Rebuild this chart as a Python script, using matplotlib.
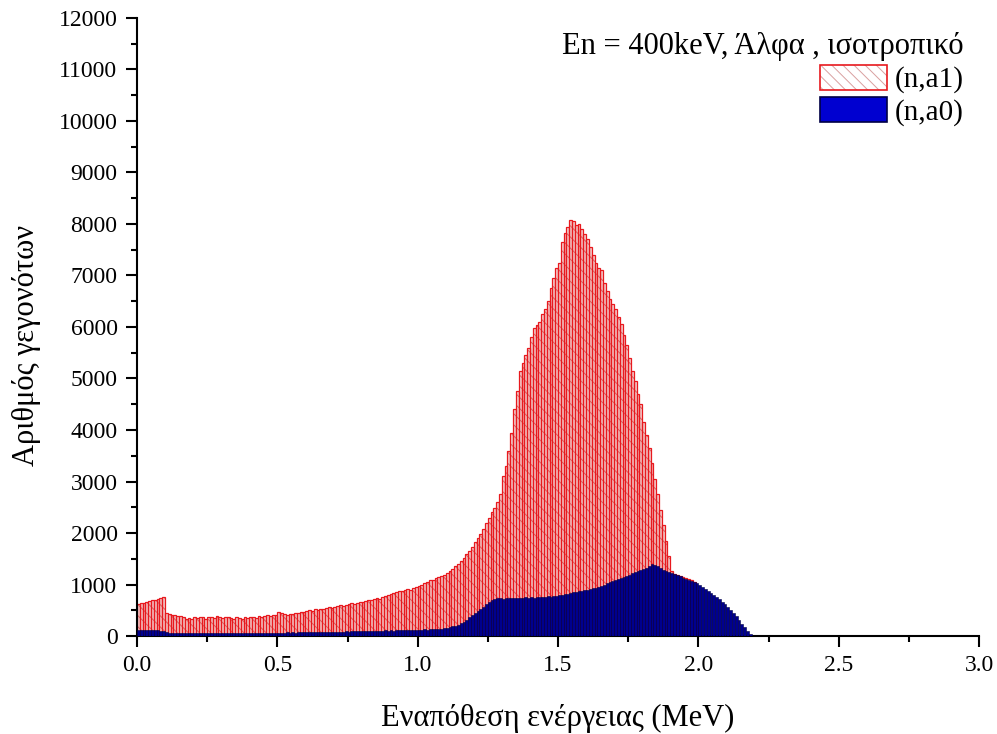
import numpy as np
import matplotlib
matplotlib.use("Agg")
import matplotlib.pyplot as plt
from matplotlib.patches import Patch
from matplotlib.legend_handler import HandlerTuple
from matplotlib.ticker import MultipleLocator

plt.rcParams['font.family'] = ['Liberation Serif', 'DejaVu Serif']
plt.rcParams['hatch.linewidth'] = 0.7

# Energy deposition histogram, 0.01 MeV bins starting at 0.00 MeV
bin_width = 0.01

# (n,a1) counts per bin
counts_a1 = [
    620, 640, 650, 670, 680, 700, 690, 720, 730, 750,
    440, 420, 400, 410, 380, 390, 360, 330, 350, 340,
    360, 350, 370, 360, 340, 370, 360, 350, 380, 370,
    350, 360, 370, 350, 340, 360, 350, 340, 360, 350,
    360, 370, 350, 380, 370, 390, 400, 380, 410, 400,
    470, 440, 420, 410, 430, 420, 440, 450, 470, 460,
    480, 500, 490, 520, 510, 530, 520, 550, 560, 540,
    570, 580, 600, 590, 610, 620, 640, 630, 650, 660,
    670, 680, 700, 690, 720, 730, 710, 750, 770, 800,
    820, 830, 850, 870, 880, 890, 910, 900, 930, 950,
    980, 1000, 1030, 1050, 1080, 1090, 1120, 1140, 1160, 1190,
    1230, 1270, 1300, 1350, 1400, 1450, 1520, 1600, 1660, 1720,
    1820, 1900, 1980, 2080, 2200, 2300, 2400, 2480, 2600, 2750,
    3100, 3300, 3600, 3950, 4400, 4750, 5150, 5300, 5450, 5600,
    5800, 5980, 6040, 6100, 6250, 6350, 6500, 6750, 6950, 7150,
    7250, 7650, 7820, 7950, 8080, 8060, 7980, 8000, 7900, 7800,
    7700, 7550, 7400, 7250, 7150, 7100, 6850, 6700, 6550, 6450,
    6350, 6200, 6050, 5850, 5650, 5400, 5150, 4950, 4700, 4500,
    4150, 3900, 3650, 3350, 3050, 2750, 2450, 2150, 1850, 1550,
    1260, 1210, 1190, 1160, 1140, 1120, 1100, 1080, 1040, 900,
]

# (n,a0) counts per bin
counts_a0 = [
    120, 110, 115, 120, 110, 115, 120, 110, 105, 100,
    70, 60, 55, 60, 50, 55, 60, 50, 55, 60,
    55, 60, 50, 55, 60, 55, 50, 60, 55, 50,
    55, 60, 55, 50, 55, 60, 55, 50, 55, 60,
    55, 60, 65, 60, 55, 60, 65, 60, 65, 60,
    65, 60, 65, 70, 65, 70, 65, 70, 75, 70,
    70, 75, 70, 75, 80, 75, 80, 75, 80, 85,
    80, 85, 80, 85, 90, 85, 90, 95, 90, 95,
    90, 95, 100, 95, 100, 105, 100, 105, 110, 105,
    110, 105, 110, 115, 110, 115, 120, 115, 120, 125,
    120, 125, 130, 125, 130, 135, 130, 140, 145, 150,
    160, 170, 185, 200, 220, 250, 280, 320, 360, 400,
    440, 480, 520, 570, 620, 660, 700, 720, 740, 730,
    720, 730, 740, 735, 740, 745, 730, 740, 750, 745,
    750, 740, 755, 760, 750, 765, 770, 760, 775, 780,
    790, 800, 810, 820, 830, 850, 860, 870, 880, 890,
    900, 910, 930, 940, 960, 980, 1000, 1020, 1040, 1060,
    1080, 1100, 1120, 1150, 1170, 1190, 1220, 1240, 1260, 1290,
    1310, 1330, 1360, 1400, 1380, 1350, 1320, 1280, 1260, 1240,
    1220, 1200, 1180, 1160, 1130, 1110, 1090, 1070, 1050, 1020,
    990, 960, 920, 880, 840, 800, 760, 720, 670, 620,
    560, 500, 440, 380, 310, 240, 170, 100, 40, 0,
]

edges_a1 = np.arange(len(counts_a1)) * bin_width
edges_a0 = np.arange(len(counts_a0)) * bin_width

red = '#e8191e'
red_fill = '#f3cccc'
red_hatch = '#d86a6a'
blue_face = '#00008e'
blue_edge = '#000045'

fig = plt.figure(figsize=(9.97, 7.34), dpi=100)
ax = fig.add_axes([0.1374, 0.1335, 0.9820 - 0.1374, 0.9755 - 0.1335])

# (n,a1): pale hatched fill with red outlines
ax.bar(edges_a1, counts_a1, width=bin_width, align='edge',
       facecolor=red_fill, edgecolor=red_hatch, hatch='\\\\\\', linewidth=0, zorder=1)
ax.bar(edges_a1, counts_a1, width=bin_width, align='edge',
       fill=False, edgecolor=red, linewidth=0.9, zorder=2)

# (n,a0): solid blue in front
ax.bar(edges_a0, counts_a0, width=bin_width, align='edge',
       facecolor=blue_face, edgecolor=blue_edge, linewidth=0.4, zorder=3)

ax.set_xlim(0, 3.0)
ax.set_ylim(0, 12000)
ax.xaxis.set_major_locator(MultipleLocator(0.5))
ax.xaxis.set_minor_locator(MultipleLocator(0.25))
ax.yaxis.set_major_locator(MultipleLocator(1000))
ax.yaxis.set_minor_locator(MultipleLocator(500))
ax.xaxis.set_major_formatter(matplotlib.ticker.FormatStrFormatter('%.1f'))

for side in ('top', 'right'):
    ax.spines[side].set_visible(False)
for side in ('left', 'bottom'):
    ax.spines[side].set_linewidth(1.5)

ax.tick_params(which='major', direction='out', length=8, width=1.5,
               labelsize=17, pad=6)
ax.tick_params(which='minor', direction='out', length=4.5, width=1.5)

ax.set_xlabel('Εναπόθεση ενέργειας (MeV)', fontsize=22, labelpad=20)
ax.set_ylabel('Αριθμός γεγονότων', fontsize=22, labelpad=13, y=0.47)

h_a1 = (Patch(facecolor='white', edgecolor='#d9a0a0', hatch='\\\\\\', linewidth=0),
        Patch(fill=False, edgecolor=red, linewidth=1.2))
h_a0 = Patch(facecolor='#0000d0', edgecolor=blue_edge, linewidth=1.2)

leg = ax.legend([h_a1, h_a0], ['(n,a1)', '(n,a0)'],
                handler_map={tuple: HandlerTuple(ndivide=1, pad=0)},
                title='En = 400keV, Άλφα , ισοτροπικό',
                title_fontsize=22, fontsize=21, frameon=False,
                loc='upper right', bbox_to_anchor=(0.985, 0.982),
                handlelength=2.3, handleheight=0.95, handletextpad=0.25,
                labelspacing=0.12, borderpad=0.1, borderaxespad=0,
                alignment='right')

fig.savefig('out.png', dpi=100)
